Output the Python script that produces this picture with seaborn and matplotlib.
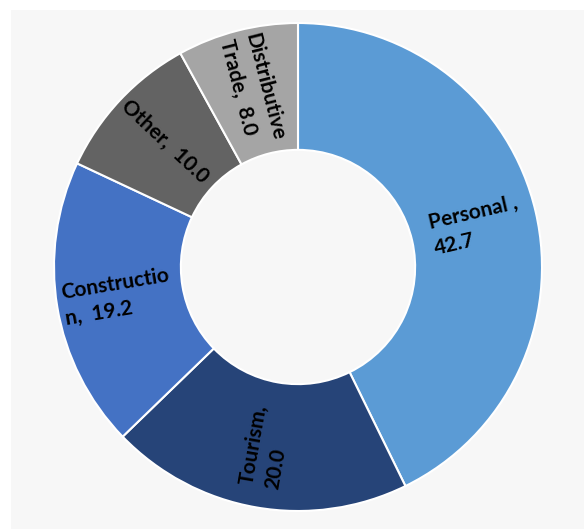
import numpy as np
import matplotlib
matplotlib.use("Agg")
import matplotlib.pyplot as plt
import seaborn as sns

sectors = ["Personal", "Tourism", "Construction", "Other", "Distributive Trade"]
shares = [42.7, 20.0, 19.2, 10.0, 8.0]
labels = ["Personal ,\n42.7", "Tourism,\n20.0", "Constructio\nn,  19.2", "Other,  10.0", "Distributive\nTrade,  8.0"]
colors = ["#5B9BD5", "#264478", "#4472C4", "#636363", "#A5A5A5"]

sns.set_style("white")
plt.rcParams['font.family'] = ['Lato', 'DejaVu Sans']

fig = plt.figure(figsize=(5.84, 5.29), dpi=100, facecolor="white")
# light grey panel behind the chart
bg = fig.add_axes([11/584, 0, 1 - 11/584, 1 - 10/529], zorder=-1)
bg.set_facecolor("#F7F7F7")
bg.set_xticks([])
bg.set_yticks([])
for s in bg.spines.values():
    s.set_visible(False)

ax = fig.add_axes([54/584, 18/529, 488/584, 488/529])
ax.set_facecolor("none")

wedges, _ = ax.pie(shares, colors=colors, startangle=90, counterclock=False,
                   radius=1, wedgeprops=dict(width=0.52, edgecolor="white", linewidth=1.5))

for w, lab in zip(wedges, labels):
    mid = (w.theta1 + w.theta2) / 2
    r = 0.75
    x = r * np.cos(np.deg2rad(mid))
    y = r * np.sin(np.deg2rad(mid))
    rot = mid
    while rot > 90:
        rot -= 180
    while rot < -90:
        rot += 180
    ax.text(x, y, lab, ha="center", va="center", rotation=rot, rotation_mode="anchor",
            fontsize=15, fontweight="bold", color="black", multialignment="left",
            linespacing=1.4)

ax.set_xlim(-1, 1)
ax.set_ylim(-1, 1)
ax.axis("off")

fig.savefig("out.png", dpi=100, facecolor="white")
